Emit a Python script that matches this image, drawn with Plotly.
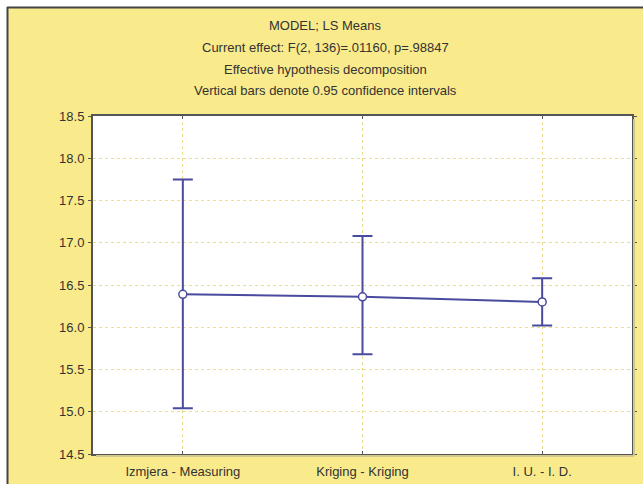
import plotly.graph_objects as go

categories = ["Izmjera - Measuring", "Kriging - Kriging", "I. U. - I. D."]
means = [16.39, 16.36, 16.30]
upper = [17.75, 17.08, 16.58]
lower = [15.04, 15.68, 16.02]
yticks = [14.5, 15.0, 15.5, 16.0, 16.5, 17.0, 17.5, 18.0, 18.5]
title_lines = [
    "MODEL; LS Means",
    "Current effect: F(2, 136)=.01160, p=.98847",
    "Effective hypothesis decomposition",
    "Vertical bars denote 0.95 confidence intervals",
]

W, H = 643, 484
L, R, T, B = 93, 11, 116, 30
pw, ph = W - L - R, H - T - B

def px(x):
    return (x - L) / pw

def py(y):
    return (H - B - y) / ph

line_col = "#4a4a9e"
yellow = "#f9ea8b"
txt_col = "#333333"
FONT = "Liberation Sans, Arial"

fig = go.Figure()
fig.add_trace(go.Scatter(
    x=list(range(len(categories))),
    y=means,
    mode="lines+markers",
    line=dict(color=line_col, width=2),
    marker=dict(size=8, color="white", line=dict(color=line_col, width=1.5)),
    error_y=dict(
        type="data",
        symmetric=False,
        array=[u - m for u, m in zip(upper, means)],
        arrayminus=[m - l for m, l in zip(means, lower)],
        color=line_col,
        thickness=2,
        width=10,
    ),
    showlegend=False,
))

annotations = []
ys = [25, 47.5, 69, 90.5]
for txt, yy in zip(title_lines, ys):
    annotations.append(dict(
        text=txt, x=0.5 * (px(7) + px(W)), y=py(yy), xref="paper", yref="paper",
        showarrow=False, xanchor="center", yanchor="middle",
        font=dict(family=FONT, size=13, color=txt_col),
    ))

shapes = [
    dict(type="rect", xref="paper", yref="paper", x0=px(0), x1=px(W), y0=py(0), y1=py(7),
         fillcolor="white", line=dict(width=0), layer="below"),
    dict(type="rect", xref="paper", yref="paper", x0=px(0), x1=px(7), y0=py(0), y1=py(H),
         fillcolor="white", line=dict(width=0), layer="below"),
    dict(type="line", xref="paper", yref="paper", x0=px(7), x1=px(W), y0=py(7.5), y1=py(7.5),
         line=dict(color="#444444", width=2)),
    dict(type="line", xref="paper", yref="paper", x0=px(7.5), x1=px(7.5), y0=py(7), y1=py(H),
         line=dict(color="#444444", width=2)),
    # subtle frame shadow
    dict(type="line", xref="paper", yref="paper", x0=px(L + 3), x1=px(W - R + 2), y0=py(H - B + 2), y1=py(H - B + 2),
         line=dict(color="#d2c88e", width=2)),
    dict(type="line", xref="paper", yref="paper", x0=px(W - R + 2), x1=px(W - R + 2), y0=py(T + 3), y1=py(H - B + 2),
         line=dict(color="#d2c88e", width=2)),
]

fig.update_layout(
    width=W, height=H,
    margin=dict(l=L, r=R, t=T, b=B, autoexpand=False),
    paper_bgcolor=yellow,
    plot_bgcolor="white",
    annotations=annotations,
    shapes=shapes,
    font=dict(family=FONT, size=13, color=txt_col),
)
fig.update_xaxes(
    range=[-0.5, len(categories) - 0.5],
    tickmode="array", tickvals=list(range(len(categories))), ticktext=categories,
    showgrid=True, gridcolor="#ece08f", griddash="dot", gridwidth=1,
    showline=True, linecolor="#555555", linewidth=2, mirror="ticks",
    ticks="inside", ticklen=3, tickcolor="#555555",
    zeroline=False, automargin=False,
    tickfont=dict(family=FONT, size=13, color=txt_col),
    ticklabelstandoff=4,
)
fig.update_yaxes(
    range=[14.5, 18.5],
    tickmode="array", tickvals=yticks, ticktext=[f"{v:.1f}" for v in yticks],
    showgrid=True, gridcolor="#ece08f", griddash="dot", gridwidth=1,
    showline=True, linecolor="#555555", linewidth=2, mirror="ticks",
    ticks="outside", ticklen=3, tickcolor="#555555",
    zeroline=False, automargin=False,
    tickfont=dict(family=FONT, size=13, color=txt_col),
    ticklabelstandoff=1,
)

fig.write_html("out.html")
